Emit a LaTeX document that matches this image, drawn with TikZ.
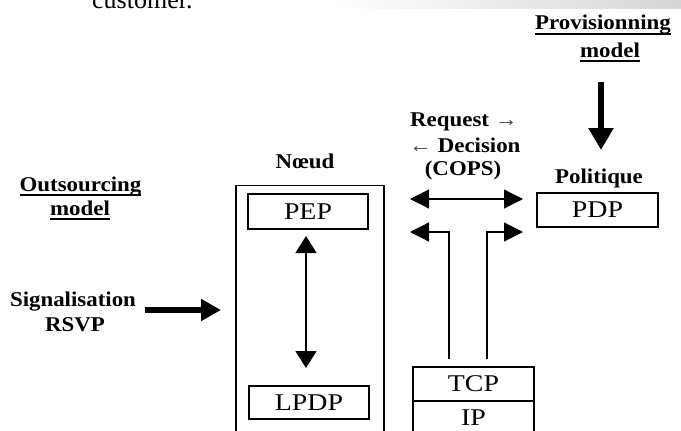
\documentclass[tikz,border=0pt]{standalone}
\usepackage{fontspec}
\setmainfont{Liberation Serif}
\newfontfamily\lblfont[FakeStretch=1.09]{Liberation Serif}
\newfontfamily\boxfont[FakeStretch=1.16]{Liberation Serif}
\usetikzlibrary{arrows.meta}
% underline drawn at a fixed distance below the baseline
\newcommand{\ul}[1]{\setbox0\hbox{#1}\rlap{\vrule height -3.4pt depth 5pt width \wd0}\box0}
\tikzset{
  lbl/.style={font=\lblfont\fontsize{21}{23}\selectfont\bfseries, inner sep=0pt, anchor=base},
  box/.style={draw, line width=1.2pt, font=\boxfont\fontsize{24}{26}\selectfont, inner sep=0pt,
              minimum width=121pt, minimum height=34pt},
  frame/.style={draw, line width=1.2pt, inner sep=0pt},
  heavy/.style={line width=5.5pt},
  conn/.style={line width=1.2pt},
  bigtip/.tip={Triangle[width=19pt,length=19pt]},
  midtip/.tip={Triangle[width=21pt,length=17pt]},
}
\begin{document}
\begin{tikzpicture}[x=1pt,y=-1pt]
\clip (0,0) rectangle (681,431);
\useasboundingbox (0,0) rectangle (681,431);

% faded strip along the top edge
\shade[left color=white, right color=black!16] (330,0) rectangle (681,8);
\node[anchor=base west, font=\fontsize{26}{28}\selectfont, inner sep=0pt] (cust) at (92,9) {customer.};

% provisioning model
\node[lbl] (prov) at (603,30) {\ul{Provisionning}};
\node[lbl] (provm) at (610,57) {\ul{model}};
\coordinate (provTop) at (601,82);
\coordinate (provEnd) at (601,150);
\draw[heavy, -{Triangle[width=24pt,length=22pt]}] (provTop) -- (provEnd);

% outsourcing model
\node[lbl] (outs) at (80.5,191) {\ul{Outsourcing}};
\node[lbl] (outsm) at (80,215) {\ul{model}};
\node[lbl] (sig) at (73,306) {Signalisation};
\node[lbl] (rsvp) at (75,331) {RSVP};
\coordinate (sigStart) at (145,310);
\coordinate (sigEnd) at (221,310);
\draw[heavy, -{Triangle[width=21pt,length=20pt]}] (sigStart) -- (sigEnd);

% node with PEP and local PDP
\node[lbl] (noeudlbl) at (305,168) {Nœud};
\node[frame, minimum width=148pt, minimum height=270pt, anchor=north] (noeud) at (310,185) {};
\node[box, minimum width=120pt, minimum height=35pt] (pep) at (308,211.5) {PEP};
\node[box, minimum width=120pt, minimum height=33pt] (lpdp) at (309,402.5) {LPDP};
\coordinate (pepLow) at (306,236);
\coordinate (lpdpUp) at (306,368);
\draw[conn, midtip-midtip] (pepLow) -- (lpdpUp);

% policy server
\node[lbl] (pol) at (599,183) {Politique};
\node[box] (pdp) at (597.5,210) {PDP};

% COPS exchange
\node[lbl, anchor=base west] (req) at (410,126) {Request {\mdseries\color{black!75}→}};
\node[lbl, anchor=base west] (dec) at (409,152) {{\mdseries\color{black!75}←} Decision};
\node[lbl] (cops) at (463,175) {(COPS)};
\coordinate (reqL) at (410,199);
\coordinate (reqR) at (523,199);
\draw[conn, bigtip-bigtip] (reqL) -- (reqR);

% transport stack
\node[box] (tcp) at (473.5,384) {TCP};
\node[box] (ip) at (473.5,418) {IP};
\coordinate (tcpL) at (449,359);
\coordinate (tcpR) at (487,359);
\coordinate (retL) at (410,232);
\coordinate (retR) at (523,232);
\draw[conn, -bigtip] (tcpL) |- (retL);
\draw[conn, -bigtip] (tcpR) |- (retR);
\end{tikzpicture}
\end{document}
